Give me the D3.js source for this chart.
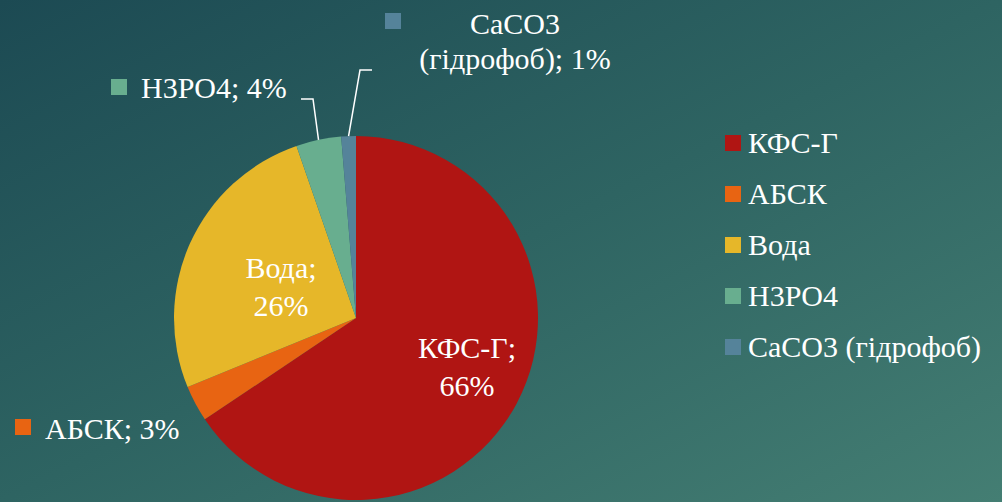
<!DOCTYPE html>
<html><head><meta charset="utf-8">
<script src="https://cdn.jsdelivr.net/npm/d3@7"></script>
</head><body style="margin:0">
<svg id="c" width="1002" height="502"></svg>
<script>
const categories = ["КФС-Г", "АБСК", "Вода", "H3PO4", "CaCO3 (гідрофоб)"];
const values = [65.6, 3.2, 25.9, 4.0, 1.3];
const colors = ["#B01513", "#E86412", "#E6B729", "#68AE8F", "#55839A"];

const W = 1002, H = 502;
const svg = d3.select("#c");
const defs = svg.append("defs");
const g0 = defs.append("linearGradient").attr("id","bg").attr("x1","0").attr("y1","0").attr("x2","1").attr("y2","1");
g0.append("stop").attr("offset","0").attr("stop-color","#1C4A53");
g0.append("stop").attr("offset","0.5").attr("stop-color","#2E6462");
g0.append("stop").attr("offset","1").attr("stop-color","#447E73");
svg.append("rect").attr("width",W).attr("height",H).attr("fill","url(#bg)");

const font = "'Liberation Serif', Tinos, 'Times New Roman', 'DejaVu Serif', 'Noto Serif', 'Noto Serif CJK SC', FreeSerif, serif";
const FS = 30;
const cx = 356, cy = 318, R = 182;
const data = categories.map((c,i)=>({cat:c, value:values[i], color:colors[i]}));
const pie = d3.pie().value(d=>d.value).sort(null);
const arcs = pie(data);
const arc = d3.arc().innerRadius(0).outerRadius(R);
const pg = svg.append("g").attr("transform",`translate(${cx},${cy})`);
pg.selectAll("path").data(arcs).join("path").attr("d",arc).attr("fill",d=>d.data.color);

const total = d3.sum(values);
const pct = v => Math.round(v/total*100) + "%";

function txt(){ return svg.append("text").attr("font-family",font).attr("font-size",FS).attr("fill","#fff"); }

// inside labels
function inside(i, x, y1, y2){
  const t = txt().attr("text-anchor","middle");
  t.append("tspan").attr("x",x).attr("y",y1).text(categories[i] + ";");
  t.append("tspan").attr("x",x).attr("y",y2).text(pct(values[i]));
}
inside(0, 467, 358, 396);
inside(2, 281, 278, 316);

// outside labels
function outsideOne(i, mx, my, tx, ty){
  svg.append("rect").attr("x",mx).attr("y",my).attr("width",16).attr("height",16).attr("fill",colors[i]);
  txt().attr("x",tx).attr("y",ty).text(categories[i] + "; " + pct(values[i]));
}
outsideOne(1, 15, 419, 45, 439);
outsideOne(3, 111, 79, 141, 98);

// CaCO3 label (two lines)
svg.append("rect").attr("x",385).attr("y",13).attr("width",16).attr("height",16).attr("fill",colors[4]);
const tc = txt().attr("text-anchor","middle");
const parts = categories[4].split(" ");
tc.append("tspan").attr("x",515).attr("y",34).text(parts[0]);
tc.append("tspan").attr("x",515).attr("y",69).text(parts[1] + "; " + pct(values[4]));

// leader lines
function edgePoint(a){ const m=(a.startAngle+a.endAngle)/2; return [cx+Math.sin(m)*R, cy-Math.cos(m)*R]; }
const pG = edgePoint(arcs[3]), pB = edgePoint(arcs[4]);
svg.append("polyline").attr("points",`301,99 313,99 ${pG[0]},${pG[1]}`).attr("fill","none").attr("stroke","#fff").attr("stroke-width",1.5);
svg.append("polyline").attr("points",`372,70 360,70 ${pB[0]},${pB[1]}`).attr("fill","none").attr("stroke","#fff").attr("stroke-width",1.5);

// legend
categories.forEach((c,i)=>{
  const y = 143 + i*51;
  svg.append("rect").attr("x",725).attr("y",y-8).attr("width",16).attr("height",16).attr("fill",colors[i]);
  txt().attr("x",748).attr("y",y+10).text(c);
});
</script>
</body></html>
